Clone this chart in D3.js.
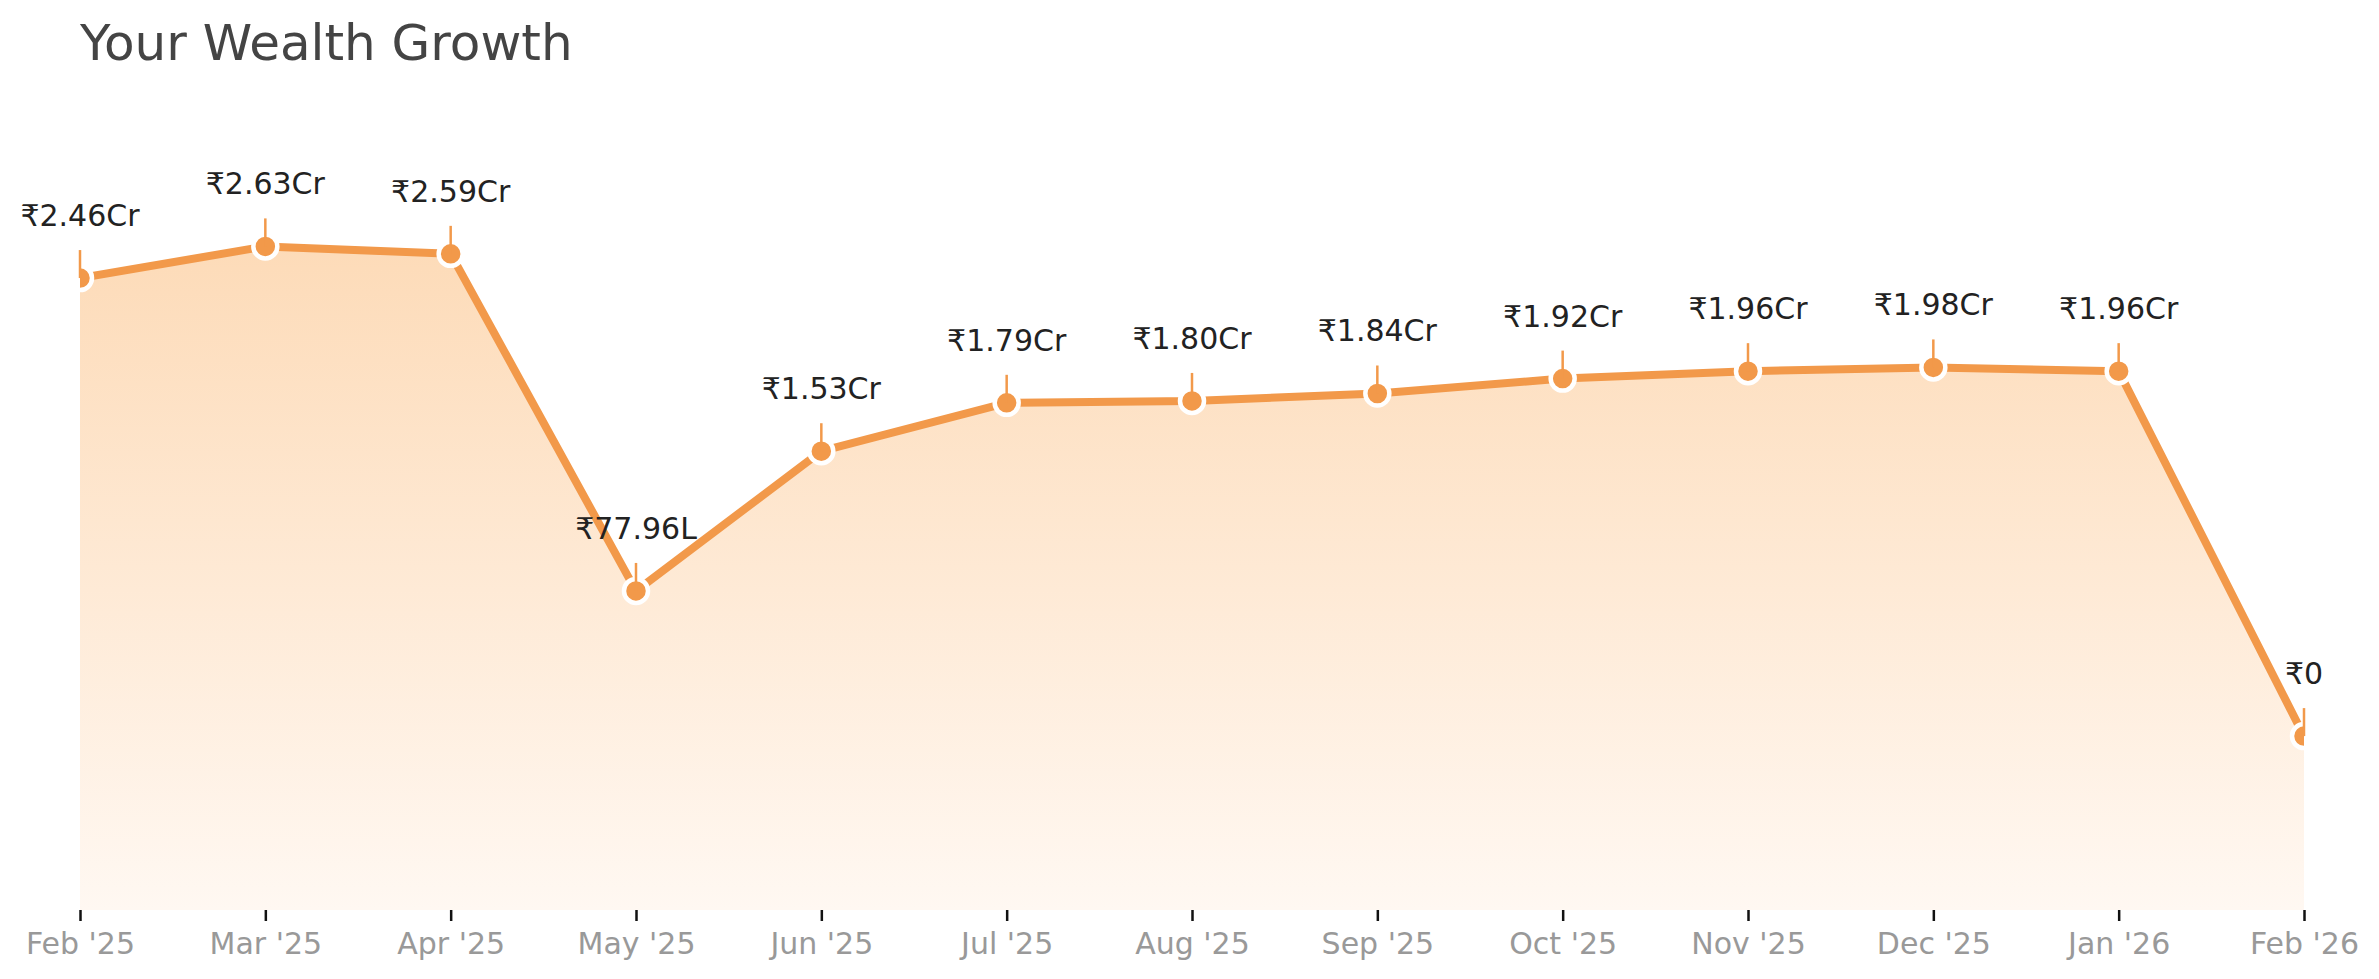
<html>
  <head>
    <style>
      body { margin: 0; background: #fff; }
      text { font-family: "DejaVu Sans", sans-serif; }
      .line { stroke: #f2994a; stroke-width: 8; fill: none; stroke-linejoin: round; }
      .title { fill: #444; font-size: 50px; }
      .vlabel { fill: #222; font-size: 30px; text-anchor: middle; }
      .axis text { fill: #999; font-size: 30px; }
      .axis line { stroke: #111; stroke-width: 2.5; }
    </style>
    <script src="https://d3js.org/d3.v7.min.js"></script>
  </head>
  <body></body>
</html>

<script>
  var width = 2379,
    height = 979;

  var months = ["Feb '25", "Mar '25", "Apr '25", "May '25", "Jun '25", "Jul '25", "Aug '25",
    "Sep '25", "Oct '25", "Nov '25", "Dec '25", "Jan '26", "Feb '26"];
  // wealth in crore
  var wealthCr = [2.46, 2.63, 2.59, 0.7796, 1.53, 1.79, 1.80, 1.84, 1.92, 1.96, 1.98, 1.96, 0];
  var valueLabels = ["₹2.46Cr", "₹2.63Cr", "₹2.59Cr", "₹77.96L", "₹1.53Cr", "₹1.79Cr", "₹1.80Cr",
    "₹1.84Cr", "₹1.92Cr", "₹1.96Cr", "₹1.98Cr", "₹1.96Cr", "₹0"];

  var data = months.map((m, i) => ({ month: m, value: wealthCr[i], label: valueLabels[i] }));

  var plot = { left: 80, right: 2304, top: 90, bottom: 910 };

  var svg = d3.select("body")
    .append("svg")
    .attr("width", width)
    .attr("height", height);

  var xScale = d3.scalePoint()
    .domain(months)
    .range([plot.left, plot.right]);

  var yScale = d3.scaleLinear()
    .domain([-0.934, 3.47])
    .range([plot.bottom, plot.top]);

  var defs = svg.append("defs");
  var grad = defs.append("linearGradient")
    .attr("id", "areaFill")
    .attr("gradientUnits", "userSpaceOnUse")
    .attr("x1", 0).attr("x2", 0)
    .attr("y1", yScale(d3.max(wealthCr)))
    .attr("y2", plot.bottom);
  grad.append("stop").attr("offset", "0%").attr("stop-color", "#fddbb8");
  grad.append("stop").attr("offset", "100%").attr("stop-color", "#fff8f2");

  defs.append("clipPath")
    .attr("id", "plotClip")
    .append("rect")
    .attr("x", plot.left)
    .attr("y", 0)
    .attr("width", plot.right - plot.left)
    .attr("height", plot.bottom);

  // title
  svg.append("text")
    .attr("class", "title")
    .attr("x", plot.left)
    .attr("y", 60)
    .text("Your Wealth Growth");

  var chart = svg.append("g").attr("clip-path", "url(#plotClip)");

  var areaFunction = d3.area()
    .x(d => xScale(d.month))
    .y0(plot.bottom)
    .y1(d => yScale(d.value));

  chart.append("path")
    .attr("d", areaFunction(data))
    .attr("fill", "url(#areaFill)");

  var lineFunction = d3.line()
    .x(d => xScale(d.month))
    .y(d => yScale(d.value));

  chart.append("path")
    .attr("class", "line")
    .attr("d", lineFunction(data));

  // little stems above points
  svg.selectAll(".stem")
    .data(data)
    .enter()
    .append("line")
    .attr("class", "stem")
    .attr("x1", d => xScale(d.month))
    .attr("x2", d => xScale(d.month))
    .attr("y1", d => yScale(d.value) - 28)
    .attr("y2", d => yScale(d.value))
    .attr("stroke", "#f2994a")
    .attr("stroke-width", 2.5);

  chart.selectAll(".dot")
    .data(data)
    .enter()
    .append("circle")
    .attr("class", "dot")
    .attr("cx", d => xScale(d.month))
    .attr("cy", d => yScale(d.value))
    .attr("r", 12)
    .attr("fill", "#f2994a")
    .attr("stroke", "#fff")
    .attr("stroke-width", 4.5);

  svg.selectAll(".vlabel")
    .data(data)
    .enter()
    .append("text")
    .attr("class", "vlabel")
    .attr("x", d => xScale(d.month))
    .attr("y", d => yScale(d.value) - 52)
    .text(d => d.label);

  var xAxis = d3.axisBottom(xScale)
    .tickSize(11)
    .tickPadding(12);

  svg.append("g")
    .attr("class", "axis")
    .attr("transform", "translate(0, " + plot.bottom + ")")
    .call(xAxis)
    .call(g => g.select(".domain").remove());
</script>
